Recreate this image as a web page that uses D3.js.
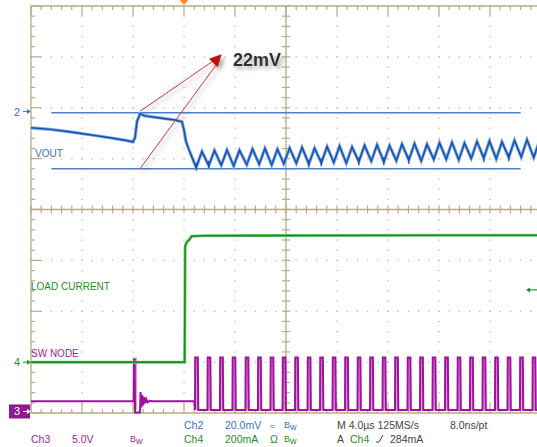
<!DOCTYPE html>
<html>
<head>
<meta charset="utf-8">
<script src="https://cdnjs.cloudflare.com/ajax/libs/d3/7.8.5/d3.min.js"></script>
<style>
  body { margin: 0; background: #fff; }
  svg { display: block; font-family: "Liberation Sans", Arial, sans-serif; }
</style>
</head>
<body>
<svg id="scope"></svg>
<script>
// scope screen: 4 us/div, trigger at t = 0, 10 x 8 divisions
var timeDomain = [-12, 28];
var divDomain = [-4, 4];

// channel offsets (div) and scales
var ch2Offset = 1.9,   ch2PerDiv = 20;   // VOUT, mV
var ch3Offset = -3.97, ch3PerDiv = 5;    // SW NODE, V
var ch4Offset = -3.0,  ch4PerDiv = 200;  // LOAD CURRENT, mA

// VOUT before / during the load step [us, mV]
var voutStep = [[-12, -5.9], [-10.5, -6.5], [-8.9, -7.5], [-7.4, -8.6], [-5.8, -9.8],
    [-4.6, -10.8], [-4.0, -11.4], [-3.84, -9.8], [-3.69, -3.5], [-3.45, -0.4],
    [-3.06, -1.2], [-1.9, -2.0], [-0.7, -2.8], [-0.16, -3.5], [0.0, -6.7],
    [0.16, -11.4], [0.39, -14.5], [0.71, -18.5]];

// switching pulses after the step (us)
var swPulses = [0.86, 1.84, 2.82, 3.80, 4.82, 5.80, 6.78, 7.73, 8.71, 9.69, 10.67, 11.65,
    12.63, 13.61, 14.59, 15.57, 16.55, 17.53, 18.51, 19.49, 20.47, 21.45, 22.43, 23.41,
    24.39, 25.37, 26.35, 27.33];

// VOUT ripple valleys / peaks per cycle (mV)
var rippleLow = [-21.5, -20.8, -20.6, -20.9, -20.4, -20.2, -20.5, -20.0, -19.8, -20.1,
    -19.6, -19.5, -19.8, -19.2, -19.0, -19.3, -18.8, -18.6, -18.9, -18.3, -18.2, -18.5,
    -17.9, -17.8, -18.1, -17.5, -17.4, -17.6];
var rippleHigh = [-15.2, -14.8, -14.6, -14.7, -14.2, -14.0, -14.3, -13.8, -13.6, -13.9,
    -13.3, -13.1, -13.4, -12.8, -12.6, -12.9, -12.3, -12.1, -12.4, -11.8, -11.6, -11.9,
    -11.3, -11.1, -11.4, -10.8, -10.6, -10.9];

// downward spikes on VOUT [us, mV]
var voutSpikes = [[0.86, -22.6], [1.84, -21.8], [9.69, -21.4], [10.67, -21.0],
    [13.61, -20.6], [15.57, -20.4], [17.53, -20.0], [23.41, -19.4], [25.37, -19.0]];

// cursors (mV) and their extent (us)
var cursorMv = [0, -22];
var cursorSpan = [-10.4, 26.4];

// LOAD CURRENT [us, mA]
var loadPoints = [[-12, 0], [0.05, 0], [0.09, 455], [0.2, 470], [0.45, 484],
    [0.6, 495], [1.5, 497], [10, 498], [20, 499], [28, 499]];

// SW NODE before the switching starts [us, V]
var swPre = [[-12, 1.0], [-3.95, 1.0], [-3.93, 5.1], [-3.87, 5.1], [-3.84, -0.1],
    [-3.45, -0.1], [-3.41, 1.9], [-3.34, 0.4], [-3.27, 1.6], [-3.2, 0.6], [-3.12, 1.4],
    [-3.04, 0.8], [-2.95, 1.2], [-2.85, 0.9], [-2.7, 1.05], [-2.5, 1.0], [0.8, 1.0]];
var swHigh = 5.3, swLow = 0.15;

var svgWidth = 537;
var svgHeight = 447;

var svg = d3.select('#scope')
    .attr('width', svgWidth)
    .attr('height', svgHeight);

var xScale = d3.scaleLinear().domain(timeDomain).range([31, 541]);
var yScale = d3.scaleLinear().domain(divDomain).range([413, 6]);

var y2 = function (mv) { return yScale(ch2Offset + mv / ch2PerDiv); };
var y3 = function (v) { return yScale(ch3Offset + v / ch3PerDiv); };
var y4 = function (ma) { return yScale(ch4Offset + ma / ch4PerDiv); };

var defs = svg.append('defs');
defs.append('filter').attr('id', 'shadow')
    .attr('x', '-20%').attr('y', '-20%').attr('width', '160%').attr('height', '160%')
    .append('feDropShadow')
    .attr('dx', 3).attr('dy', 3).attr('stdDeviation', 2)
    .attr('flood-color', '#000').attr('flood-opacity', 0.35);

// graticule
var gridColor = '#b5ab88';
var grid = svg.append('g');
var minorT = d3.range(0, 51).map(function (i) { return -12 + i * 0.8; });
var minorD = d3.range(0, 41).map(function (i) { return -4 + i * 0.2; });
var majorT = d3.range(1, 10).map(function (i) { return -12 + i * 4; });
var majorD = d3.range(1, 8).map(function (i) { return -4 + i; });

majorT.filter(function (t) { return t !== 8; }).forEach(function (t) {
    grid.selectAll(null).data(minorD).enter().append('rect')
        .attr('x', xScale(t) - 0.6)
        .attr('y', function (d) { return yScale(d) - 0.6; })
        .attr('width', 1.3).attr('height', 1.3)
        .attr('fill', '#c4bb9c');
});
majorD.filter(function (d) { return d !== 0; }).forEach(function (d) {
    grid.selectAll(null).data(minorT).enter().append('rect')
        .attr('x', function (t) { return xScale(t) - 0.6; })
        .attr('y', yScale(d) - 0.6)
        .attr('width', 1.3).attr('height', 1.3)
        .attr('fill', '#c4bb9c');
});

var lines = [
    [xScale(-12), yScale(4), xScale(28), yScale(4)],
    [xScale(-12), yScale(-4), xScale(28), yScale(-4)],
    [xScale(-12), yScale(4), xScale(-12), yScale(-4)],
    [xScale(-12), yScale(0), xScale(28), yScale(0)],
    [xScale(8), yScale(4), xScale(8), yScale(-4)]
];
grid.selectAll('line.frame').data(lines).enter().append('line')
    .attr('x1', function (d) { return d[0]; }).attr('y1', function (d) { return d[1]; })
    .attr('x2', function (d) { return d[2]; }).attr('y2', function (d) { return d[3]; })
    .attr('stroke', gridColor).attr('stroke-width', 1.3);

function isMajor(v, base, step) {
    var k = (v - base) / step;
    return Math.abs(k - Math.round(k)) < 0.01;
}

// ticks on top / bottom border and horizontal centre line
minorT.forEach(function (t) {
    var big = isMajor(t, -12, 4) ? 10 : 4;
    grid.append('line').attr('x1', xScale(t)).attr('x2', xScale(t))
        .attr('y1', yScale(4)).attr('y2', yScale(4) + big)
        .attr('stroke', gridColor).attr('stroke-width', 1.2);
    grid.append('line').attr('x1', xScale(t)).attr('x2', xScale(t))
        .attr('y1', yScale(-4)).attr('y2', yScale(-4) - big)
        .attr('stroke', gridColor).attr('stroke-width', 1.2);
    grid.append('line').attr('x1', xScale(t)).attr('x2', xScale(t))
        .attr('y1', yScale(0) - 4).attr('y2', yScale(0) + 4)
        .attr('stroke', gridColor).attr('stroke-width', 1.2);
});
// ticks on left border and vertical centre line
minorD.forEach(function (d) {
    var big = isMajor(d, -4, 1) ? 10 : 4;
    grid.append('line').attr('x1', xScale(-12)).attr('x2', xScale(-12) + big)
        .attr('y1', yScale(d)).attr('y2', yScale(d))
        .attr('stroke', gridColor).attr('stroke-width', 1.2);
    grid.append('line').attr('x1', xScale(8) - 4).attr('x2', xScale(8) + 4)
        .attr('y1', yScale(d)).attr('y2', yScale(d))
        .attr('stroke', gridColor).attr('stroke-width', 1.2);
});

// trigger position marker
svg.append('path')
    .attr('d', 'M' + (xScale(0) - 4.5) + ',0 L' + (xScale(0) + 4.5) + ',0 L' + xScale(0) + ',5 Z')
    .attr('fill', '#ff8a2a');

// cursors
svg.selectAll('line.cursor').data(cursorMv).enter().append('line')
    .attr('x1', xScale(cursorSpan[0])).attr('x2', xScale(cursorSpan[1]))
    .attr('y1', function (d) { return y2(d); }).attr('y2', function (d) { return y2(d); })
    .attr('stroke', '#4a7fcc').attr('stroke-width', 1.5);

// SW NODE (ch3)
var swColor = '#a0129e', swLight = '#d98ad7';
var swPoints = swPre.slice();
swPulses.forEach(function (t, i) {
    var next = i < swPulses.length - 1 ? swPulses[i + 1] : 28;
    swPoints.push([t, swLow], [t + 0.02, swHigh], [t + 0.22, swHigh],
        [t + 0.26, swLow], [next - 0.02, swLow]);
});
var swLine = d3.line()
    .x(function (d) { return xScale(d[0]); })
    .y(function (d) { return y3(d[1]); });

svg.selectAll('rect.swghost').data(swPulses.concat([-3.95])).enter().append('rect')
    .attr('x', function (d) { return xScale(d) - 0.5; })
    .attr('width', function (d) { return d < 0 ? 4 : xScale(d + 0.3) - xScale(d) + 0.5; })
    .attr('y', y3(swHigh))
    .attr('height', y3(swLow) - y3(swHigh))
    .attr('fill', swLight).attr('opacity', 0.8);

svg.append('path').datum(swPoints)
    .attr('d', swLine)
    .attr('fill', 'none').attr('stroke', swColor).attr('stroke-width', 2);

// LOAD CURRENT (ch4)
var loadColor = '#16901a';
var loadLine = d3.line()
    .x(function (d) { return xScale(d[0]); })
    .y(function (d) { return y4(d[1]); });
svg.append('path').datum(loadPoints)
    .attr('d', loadLine)
    .attr('fill', 'none').attr('stroke', '#7cc87c').attr('stroke-width', 3);
svg.append('path').datum(loadPoints)
    .attr('d', loadLine)
    .attr('fill', 'none').attr('stroke', loadColor).attr('stroke-width', 1.6);

// VOUT (ch2)
var voutColor = '#1152b4';
var voutPoints = voutStep.slice();
swPulses.forEach(function (t, i) {
    voutPoints.push([t + 0.1, rippleLow[i]], [t + 0.55, rippleHigh[i]]);
});
var voutLine = d3.line()
    .x(function (d) { return xScale(d[0]); })
    .y(function (d) { return y2(d[1]); });
svg.append('path').datum(voutPoints)
    .attr('d', voutLine)
    .attr('fill', 'none').attr('stroke', '#82a6dc').attr('stroke-width', 3.2);
svg.append('path').datum(voutPoints)
    .attr('d', voutLine)
    .attr('fill', 'none').attr('stroke', voutColor).attr('stroke-width', 1.5);
svg.selectAll('line.spike').data(voutSpikes).enter().append('line')
    .attr('x1', function (d) { return xScale(d[0] + 0.1); })
    .attr('x2', function (d) { return xScale(d[0] + 0.1); })
    .attr('y1', function (d) { return y2(d[1] + 3); })
    .attr('y2', function (d) { return y2(d[1]); })
    .attr('stroke', voutColor).attr('stroke-width', 1.2);

// channel labels and ground markers
var blue = '#3a72c4', green = '#1f8f1f', magenta = '#a21ca0';
svg.append('text').attr('x', 35).attr('y', y2(-17.3)).text('VOUT')
    .attr('fill', blue).attr('font-size', 10);
svg.append('text').attr('x', 31).attr('y', y4(282)).text('LOAD CURRENT')
    .attr('fill', green).attr('font-size', 10);
svg.append('text').attr('x', 31).attr('y', y4(20)).text('SW NODE')
    .attr('fill', magenta).attr('font-size', 10);

function marker(label, yPos, color, boxed) {
    var g = svg.append('g');
    if (boxed) {
        g.append('rect').attr('x', 9).attr('y', yPos - 7).attr('width', 21).attr('height', 14)
            .attr('fill', '#8c1a8c');
        color = '#fff';
    }
    g.append('text').attr('x', 14).attr('y', yPos + 4).text(label)
        .attr('fill', color).attr('font-size', 11);
    g.append('line').attr('x1', 23).attr('x2', 28).attr('y1', yPos).attr('y2', yPos)
        .attr('stroke', color).attr('stroke-width', 1);
    g.append('path').attr('d', 'M27,' + (yPos - 2.5) + ' L31,' + yPos + ' L27,' + (yPos + 2.5) + ' Z')
        .attr('fill', color);
}
marker('2', y2(0.5), blue, false);
marker('4', y4(0), green, false);
marker('3', y3(0), magenta, true);

// trigger level arrow (284 mA)
var trigY = y4(284);
svg.append('line').attr('x1', 529).attr('x2', 537).attr('y1', trigY).attr('y2', trigY)
    .attr('stroke', green).attr('stroke-width', 1.2);
svg.append('path').attr('d', 'M530,' + (trigY - 2.5) + ' L526,' + trigY + ' L530,' + (trigY + 2.5) + ' Z')
    .attr('fill', green);

// 22mV annotation
var tipT = 2.95, tipD = 3.05;
var tip = [xScale(tipT), yScale(tipD)];
var note = svg.append('g').attr('filter', 'url(#shadow)');
var fromT = -3.45;
note.append('line').attr('x1', xScale(fromT)).attr('y1', y2(cursorMv[0]) - 1.5)
    .attr('x2', tip[0] - 9).attr('y2', tip[1] + 7)
    .attr('stroke', '#d43434').attr('stroke-width', 1);
note.append('line').attr('x1', xScale(fromT)).attr('y1', y2(cursorMv[1]))
    .attr('x2', tip[0] - 5).attr('y2', tip[1] + 10)
    .attr('stroke', '#d43434').attr('stroke-width', 1);
note.append('path')
    .attr('d', 'M' + tip[0] + ',' + tip[1] +
        ' L' + (tip[0] - 12.5) + ',' + (tip[1] + 4.5) +
        ' L' + (tip[0] - 4) + ',' + (tip[1] + 13) + ' Z')
    .attr('fill', '#c40c0c');
svg.append('text').attr('x', 233).attr('y', 66).text('22mV')
    .attr('font-size', 18).attr('font-weight', 'bold').attr('fill', '#333')
    .attr('filter', 'url(#shadow)');

// status lines
var statusG = svg.append('g').attr('font-size', 10.5);
function put(x, y, txt, color) {
    return statusG.append('text').attr('x', x).attr('y', y).text(txt).attr('fill', color);
}
function bw(x, y, color) {
    var t = statusG.append('text').attr('x', x).attr('y', y).attr('fill', color).attr('font-size', 9);
    t.append('tspan').text('B').attr('dy', -1);
    t.append('tspan').text('w').attr('dy', 2);
}
var dark = '#444';
var row1 = 429, row2 = 443;
put(184, row1, 'Ch2', blue);
put(225, row1, '20.0mV', blue);
put(270, row1, '\u2248', blue).attr('font-size', 8);
bw(284, row1, blue);
put(337, row1, 'M 4.0\u00b5s 125MS/s', dark);
put(450, row1, '8.0ns/pt', dark);

put(31, row2, 'Ch3', magenta);
put(72, row2, '5.0V', magenta);
bw(130, row2, magenta);
put(184, row2, 'Ch4', green);
put(225, row2, '200mA', green);
put(270, row2, '\u03a9', green);
bw(284, row2, green);
put(337, row2, 'A', dark);
put(350, row2, 'Ch4', green);
statusG.append('path').attr('d', 'M376,' + (row2 - 1) + ' L379,' + (row2 - 1) + ' L383,' + (row2 - 8))
    .attr('fill', 'none').attr('stroke', dark).attr('stroke-width', 1);
put(390, row2, '284mA', dark);
</script>
</body>
</html>
